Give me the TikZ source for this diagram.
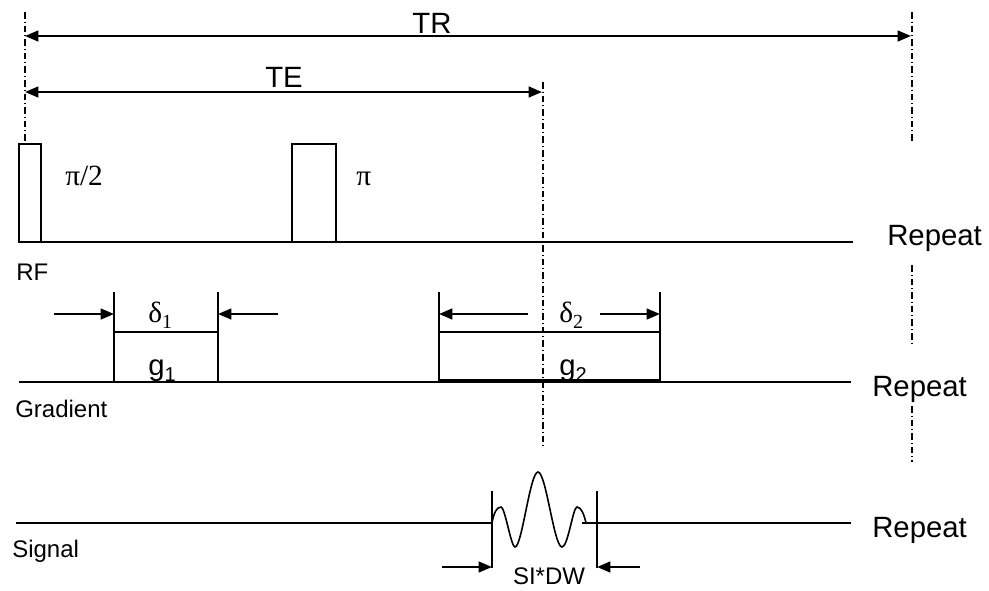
\documentclass[tikz,border=0pt]{standalone}
\usepackage{fontspec}
\setmainfont{Liberation Sans}
\newfontfamily\greekfont{Liberation Serif}
\usetikzlibrary{arrows.meta}

\newcommand{\lowsub}[1]{\raisebox{-0.45ex}{\fontsize{15}{18}\selectfont #1}}

\begin{document}
\begin{tikzpicture}[
    x=0.75pt, y=-0.75pt,
    trace/.style={line width=1.5pt},
    pulse/.style={draw, line width=1.5pt},
    dimarrow/.style={-{Triangle[length=10pt, width=8pt]}, line width=1.8pt},
    spanarrow/.style={{Triangle[length=10pt, width=8pt]}-{Triangle[length=10pt, width=8pt]}, line width=1.8pt},
    marker/.style={line width=1pt, dash pattern=on 5pt off 2.2pt on 0.8pt off 2.2pt},
    biglabel/.style={font=\fontsize{22}{26}\selectfont, inner sep=0pt, anchor=base},
    rowlabel/.style={font=\fontsize{18}{22}\selectfont, inner sep=0pt, anchor=base west},
    greeklabel/.style={font=\greekfont\fontsize{22}{26}\selectfont, inner sep=0pt, anchor=base west},
]
    \useasboundingbox (0,0) rectangle (989,590);

    % Timing marks
    \draw[marker] (25,12) -- (25,144);
    \draw[marker] (543,82) -- (543,447);
    \draw[marker] (912,12) -- (912,142);
    \draw[marker] (912,265) -- (912,345);
    \draw[marker] (912,406) -- (912,462);

    % TR and TE spans
    \coordinate (trL) at (25,36);
    \coordinate (trR) at (911,36);
    \coordinate (teL) at (25,92);
    \coordinate (teR) at (542,92);
    \draw[spanarrow] (trL) -- (trR);
    \draw[spanarrow] (teL) -- (teR);
    \node[biglabel] (tr) at (432,33) {TR};
    \node[biglabel] (te) at (284,87) {TE};

    % RF row
    \draw[trace] (19,242) -- (853,242);
    \draw[pulse] (19,144) rectangle (41,242);
    \draw[pulse] (292,144) rectangle (336,242);
    \node[greeklabel] (p90) at (65,185) {π/2};
    \node[greeklabel] (p180) at (356,185) {π};
    \node[rowlabel] (rf) at (16,280) {RF};
    \node[biglabel, anchor=base west] (rep1) at (887,245) {Repeat};

    % Gradient row
    \draw[trace] (19,382) -- (851,382);
    \draw[pulse] (114,292) -- (114,382) (218,292) -- (218,382) (114,332) -- (218,332);
    \draw[pulse] (439,292) -- (439,382) (660,292) -- (660,382) (439,332) -- (660,332);
    \draw[line width=2.5pt] (439,381) -- (660,381);
    \node[greeklabel] (d1) at (148,322) {δ\lowsub{1}};
    \node[biglabel, anchor=base west] (g1) at (148,375) {g\lowsub{1}};
    \node[greeklabel] (d2) at (559,322) {δ\lowsub{2}};
    \node[biglabel, anchor=base west] (g2) at (559,375) {g\lowsub{2}};
    \coordinate (d1a) at (54,314);
    \coordinate (d1b) at (114,314);
    \coordinate (d1c) at (278,314);
    \coordinate (d1d) at (218,314);
    \draw[dimarrow] (d1a) -- (d1b);
    \draw[dimarrow] (d1c) -- (d1d);
    \coordinate (d2a) at (528,314);
    \coordinate (d2b) at (439,314);
    \coordinate (d2c) at (600,314);
    \coordinate (d2d) at (660,314);
    \draw[dimarrow] (d2a) -- (d2b);
    \draw[dimarrow] (d2c) -- (d2d);
    \node[rowlabel] (grad) at (15,417) {Gradient};
    \node[biglabel, anchor=base west] (rep2) at (872,396) {Repeat};

    % Signal row
    \draw[trace] (16,523) -- (492,523);
    \draw[trace] (582,523) -- (851,523);
    \draw[line width=1.2pt] (492,523) .. controls (494,512) and (497,507) .. (501,507)
        .. controls (505,507) and (511,547) .. (515,547)
        .. controls (522,547) and (530,472) .. (538,472)
        .. controls (546,472) and (554,547) .. (562,547)
        .. controls (568,547) and (573,507) .. (577,507)
        .. controls (581,507) and (584,514) .. (586,523);
    \draw[pulse] (492,491) -- (492,568) (597,491) -- (597,568);
    \coordinate (swa) at (442,567);
    \coordinate (swb) at (492,567);
    \coordinate (swc) at (640,567);
    \coordinate (swd) at (597,567);
    \draw[dimarrow] (swa) -- (swb);
    \draw[dimarrow] (swc) -- (swd);
    \node[rowlabel, anchor=base] (sidw) at (549,584) {SI*DW};
    \node[rowlabel] (sig) at (12,557) {Signal};
    \node[biglabel, anchor=base west] (rep3) at (872,537) {Repeat};
\end{tikzpicture}
\end{document}
